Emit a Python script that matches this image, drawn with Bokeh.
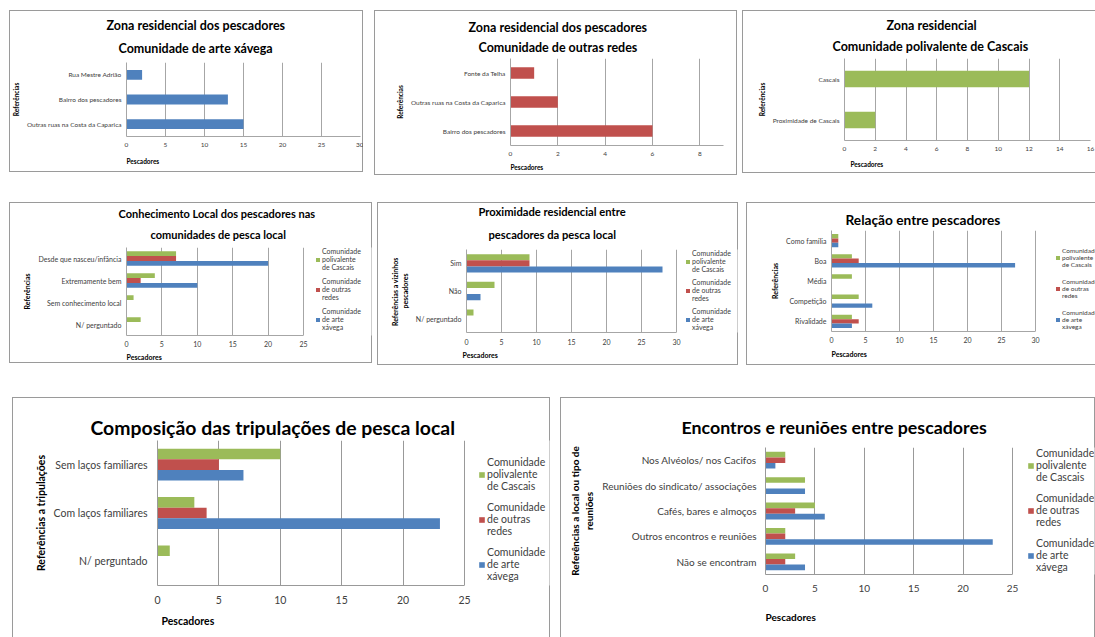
from bokeh.plotting import figure
from bokeh.models import (FactorRange, Range1d, Title, Legend, LegendItem, Spacer,
                          FixedTicker, ColumnDataSource)
from bokeh.layouts import row, column
from bokeh.transform import dodge
from bokeh.embed import file_html
from bokeh.resources import INLINE

FONT = "Lato"
GREEN, RED, BLUE = "#9BBB59", "#C0504D", "#4F81BD"
TEXT = "#404040"
EDGE = "#9a9a9a"

# ---- data -------------------------------------------------------------
xavega_zona_cats = ["Rua Mestre Adrião", "Bairro dos pescadores", "Outras ruas na Costa da Caparica"]
xavega_zona_vals = [2, 13, 15]

redes_zona_cats = ["Fonte da Telha", "Outras ruas na Costa da Caparica", "Bairro dos pescadores"]
redes_zona_vals = [1, 2, 6]

cascais_zona_cats = ["Cascais", "Proximidade de Cascais"]
cascais_zona_vals = [12, 2]

conhecimento_cats = ["Desde que nasceu/infância", "Extremamente bem", "Sem conhecimento local", "N/ perguntado"]
conhecimento_cascais = [7, 4, 1, 2]
conhecimento_redes = [7, 2, 0, 0]
conhecimento_xavega = [20, 10, 0, 0]

proximidade_cats = ["Sim", "Não", "N/ perguntado"]
proximidade_cascais = [9, 4, 1]
proximidade_redes = [9, 0, 0]
proximidade_xavega = [28, 2, 0]

relacao_cats = ["Como família", "Boa", "Média", "Competição", "Rivalidade"]
relacao_cascais = [1, 3, 3, 4, 3]
relacao_redes = [1, 4, 0, 0, 4]
relacao_xavega = [1, 27, 0, 6, 3]

tripulacoes_cats = ["Sem laços familiares", "Com laços familiares", "N/ perguntado"]
tripulacoes_cascais = [10, 3, 1]
tripulacoes_redes = [5, 4, 0]
tripulacoes_xavega = [7, 23, 0]

encontros_cats = ["Nos Alvéolos/ nos Cacifos", "Reuniões do sindicato/ associações",
                  "Cafés, bares e almoços", "Outros encontros e reuniões", "Não se encontram"]
encontros_cascais = [2, 4, 5, 2, 3]
encontros_redes = [2, 0, 3, 2, 2]
encontros_xavega = [1, 4, 6, 23, 4]

series_names = ["Comunidade\npolivalente\nde Cascais",
                "Comunidade\nde outras\nredes",
                "Comunidade\nde arte\nxávega"]
series_colors = [GREEN, RED, BLUE]


def frame_edges(sides):
    parts = {"l": f"inset 1px 0 0 {EDGE}", "r": f"inset -1px 0 0 {EDGE}",
             "t": f"inset 0 1px 0 {EDGE}", "b": f"inset 0 -1px 0 {EDGE}"}
    return {"box-shadow": ", ".join(parts[s] for s in sides), "background-color": "white"}


def make_panel(cats, values, colors, titles, xmax, xstep, cfg, names=None):
    w, h = cfg["size"]
    bl, br, bt, bb = cfg["border"]
    # value scale: xmax spans "fw" pixels; the frame may run on to hold the legend
    fw = cfg.get("fw", w - bl - br)
    x_end = xmax * (w - bl - br) / fw
    p = figure(width=w, height=h, x_range=Range1d(0, x_end),
               y_range=FactorRange(factors=list(reversed(cats))),
               min_border_left=bl, min_border_right=br, min_border_top=bt, min_border_bottom=bb,
               toolbar_location=None, output_backend="svg", title=None,
               border_fill_color=None, outline_line_color=None,
               styles=frame_edges(cfg["edges"]))
    if "frame_align" in p.properties():
        p.frame_align = False

    n = len(values)
    bh = 0.4 if n == 1 else 0.22
    data = {"cat": cats}
    for i, v in enumerate(values):
        data[f"v{i}"] = v
    src = ColumnDataSource(data)
    rends = []
    for i, color in enumerate(colors):
        off = ((n - 1) / 2 - i) * bh
        r = p.hbar(y=dodge("cat", off, range=p.y_range), left=0, right=f"v{i}", height=bh,
                   fill_color=color, line_color=None, source=src)
        rends.append(r)

    grid = cfg.get("grid", "#a6a6a6")
    ticker = FixedTicker(ticks=list(range(0, int(xmax) + 1, xstep)))
    fs = cfg["font"]
    for ax in (p.xaxis[0], p.yaxis[0]):
        ax.axis_line_color = grid
        ax.major_tick_line_color = None
        ax.minor_tick_line_color = None
        ax.major_tick_out = 0
        ax.major_tick_in = 0
        ax.minor_tick_out = 0
        ax.minor_tick_in = 0
        ax.major_label_text_font = FONT
        ax.major_label_text_font_size = f"{fs}px"
        ax.major_label_text_color = TEXT

    ax = p.xaxis[0]
    ax.ticker = ticker
    ax.bounds = (0, xmax)
    ax.major_label_standoff = cfg["xstand"]
    p.xgrid[0].ticker = ticker
    p.xgrid.grid_line_color = grid
    p.ygrid.grid_line_color = None

    ay = p.yaxis[0]
    ay.major_label_standoff = cfg.get("ystand", 5)
    ay.axis_label = cfg["ytitle"]
    ay.axis_label_text_font = FONT
    ay.axis_label_text_font_size = f"{fs}px"
    ay.axis_label_text_font_style = "bold"
    ay.axis_label_text_color = "black"
    ay.axis_label_standoff = 4

    # chart title, one Title per line (the last one added sits on top)
    ts = cfg["tsize"]
    cx = cfg["tcx"]
    lines = list(zip(titles, cfg["tw"]))
    for k, (line, tw) in enumerate(reversed(lines)):
        p.add_layout(Title(text=line, align="left", offset=round(cx - tw / 2 - bl), text_font=FONT,
                           text_font_size=f"{ts}px", text_font_style="bold", text_color="black",
                           standoff=cfg["tgap"] if k == 0 else 0), "above")

    p.add_layout(Title(text="Pescadores", align="left", offset=cfg.get("xoff", 0), text_font=FONT,
                       text_font_size=f"{fs}px", text_font_style="bold", text_color="black",
                       standoff=cfg["xgap"]), "below")

    if names:
        lg = cfg["legend"]
        H = 3 * lg["lh"] + 2 * lg["sp"]
        frame_h = h - bt - bb
        vy = frame_h - (lg["top"] - bt) - H
        legend = Legend(items=[LegendItem(label=nm, renderers=[r]) for nm, r in zip(names, rends)],
                        location=(lg["x"] - bl, vy), padding=0, margin=0, spacing=lg["sp"],
                        label_height=lg["lh"], label_width=10, glyph_width=lg["g"], glyph_height=lg["g"],
                        label_standoff=2, label_text_font=FONT, label_text_font_size=f"{lg['f']}px",
                        label_text_color=TEXT, label_text_line_height=lg["lih"],
                        border_line_color=None, background_fill_alpha=0)
        p.add_layout(legend)
    return p


p1 = make_panel(xavega_zona_cats, [xavega_zona_vals], [BLUE],
                ["Zona residencial dos pescadores", "Comunidade de arte xávega"], 30, 5,
                dict(size=(354, 162), border=(116, 3, 52, 36), edges="ltrb", font=6.5, ytitle="Referências",
                     tsize=12.5, tcx=185, tw=[178, 155], tgap=13, xstand=6, xgap=12))

p2 = make_panel(redes_zona_cats, [redes_zona_vals], [RED],
                ["Zona residencial dos pescadores", "Comunidade de outras redes"], 9, 2,
                dict(size=(363, 165), border=(136, 14, 48, 30), edges="ltrb", font=6.5, ytitle="Referências",
                     tsize=12.5, tcx=183, tw=[178, 157], tgap=7, xstand=6, xgap=6))

p3 = make_panel(cascais_zona_cats, [cascais_zona_vals], [GREEN],
                ["Zona residencial", "Comunidade polivalente de Cascais"], 16, 2,
                dict(size=(353, 163), border=(102, 5, 48, 33), edges="ltb", font=6.5, ytitle="Referências",
                     tsize=12.5, tcx=189, tw=[89, 197], tgap=9, xstand=6, xgap=10, xoff=6))

p4 = make_panel(conhecimento_cats, [conhecimento_cascais, conhecimento_redes, conhecimento_xavega],
                series_colors, ["Conhecimento Local dos pescadores nas", "comunidades de pesca local"], 25, 5,
                dict(size=(363, 161), border=(117, 1, 45, 28), fw=177, edges="ltrb", font=7,
                     ytitle="Referências",
                     tsize=11, tcx=208, tw=[197, 135], tgap=13, xstand=5, xgap=3,
                     legend=dict(x=306, top=48, lh=23, sp=6, g=5, f=7, lih=1.1)),
                series_names)

p5 = make_panel(proximidade_cats, [proximidade_cascais, proximidade_redes, proximidade_xavega],
                series_colors, ["Proximidade residencial entre", "pescadores da pesca local"], 30, 5,
                dict(size=(361, 163), border=(89, 1, 46, 33), fw=210, edges="ltrb", font=7,
                     ytitle="Referências  a vizinhos\npescadores",
                     tsize=11.2, tcx=175, tw=[148, 129], tgap=17, xstand=6, xgap=3, xoff=-4,
                     legend=dict(x=308, top=50, lh=23, sp=5, g=5, f=7, lih=1.1)),
                series_names)

p6 = make_panel(relacao_cats, [relacao_cascais, relacao_redes, relacao_xavega],
                series_colors, ["Relação entre pescadores"], 30, 5,
                dict(size=(349, 163), border=(85, 0, 28, 34), fw=204, edges="ltb", font=7,
                     ytitle="Referências",
                     tsize=13.7, tcx=176, tw=[155], tgap=6, xstand=5, xgap=5,
                     legend=dict(x=309, top=48, lh=20, sp=10, g=5, f=6.5, lih=1.0)),
                series_names)

p7 = make_panel(tripulacoes_cats, [tripulacoes_cascais, tripulacoes_redes, tripulacoes_xavega],
                series_colors, ["Composição das tripulações de pesca local"], 25, 5,
                dict(size=(538, 240), border=(145, 1, 43, 52), fw=307, edges="ltr", font=10.5,
                     grid="#999999", ytitle="Referências a tripulações", xstand=10, ystand=10,
                     tsize=19.4, tcx=260, tw=[364], tgap=4, xgap=13, xoff=4,
                     legend=dict(x=466, top=58, lh=38, sp=7, g=7, f=10.5, lih=1.2)),
                series_names)

p8 = make_panel(encontros_cats, [encontros_cascais, encontros_redes, encontros_xavega],
                series_colors, ["Encontros e reuniões entre pescadores"], 25, 5,
                dict(size=(535, 240), border=(205, 1, 50, 62), fw=247, edges="ltr", font=10,
                     grid="#999999", ytitle="Referências a local ou tipo de\nreuniões", xstand=10, ystand=9,
                     tsize=17.8, tcx=273, tw=[305], tgap=20, xgap=29,
                     legend=dict(x=467, top=50, lh=38, sp=7, g=7, f=10.5, lih=1.2)),
                series_names)

top_row = row(Spacer(width=9, height=1), p1, Spacer(width=11, height=1), p2, Spacer(width=5, height=1), p3)
mid_row = row(Spacer(width=9, height=1), p4, Spacer(width=5, height=1), p5, Spacer(width=8, height=1), p6)
bot_row = row(Spacer(width=12, height=1), p7, Spacer(width=10, height=1), p8)
page = column(Spacer(width=1, height=10), top_row, Spacer(width=1, height=27), mid_row,
              Spacer(width=1, height=32), bot_row)

open("out.html", "w").write(file_html(page, INLINE))
